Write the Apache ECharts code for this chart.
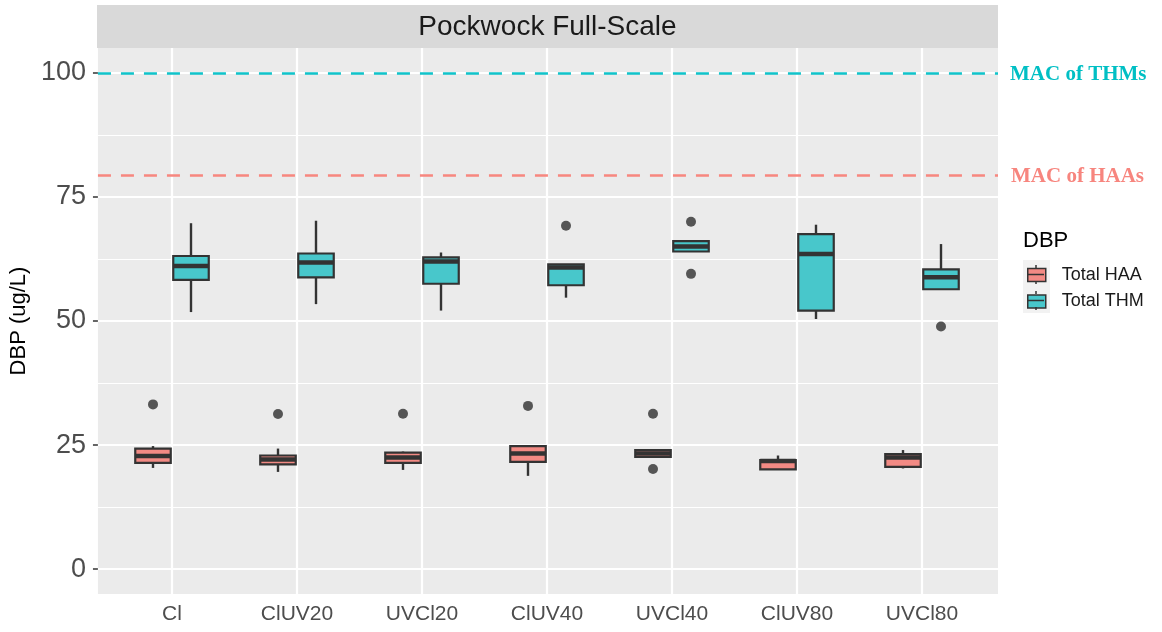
<!DOCTYPE html>
<html>
<head>
<meta charset="utf-8">
<script src="https://cdn.jsdelivr.net/npm/echarts@6/dist/echarts.min.js"></script>
<style>html,body{margin:0;padding:0;background:#fff}#c{width:1162px;height:632px}</style>
</head>
<body>
<div id="c"></div>
<script>
// ---- data ----
const categories = ['Cl', 'ClUV20', 'UVCl20', 'ClUV40', 'UVCl40', 'ClUV80', 'UVCl80'];
// [min, Q1, median, Q3, max] per category
const haaBox = [
  [20.4, 21.4, 22.8, 24.3, 24.8],
  [19.6, 21.1, 22.1, 22.9, 24.3],
  [20.0, 21.4, 22.5, 23.5, 23.7],
  [18.8, 21.6, 23.3, 24.8, 24.8],
  [22.6, 22.6, 23.3, 24.0, 24.0],
  [20.1, 20.1, 21.8, 22.0, 22.9],
  [20.3, 20.6, 22.5, 23.2, 24.0]
];
const thmBox = [
  [51.8, 58.3, 61.1, 63.1, 69.7],
  [53.4, 58.8, 61.8, 63.6, 70.2],
  [52.1, 57.5, 62.0, 62.8, 63.8],
  [54.7, 57.2, 60.8, 61.4, 61.4],
  [64.0, 64.0, 65.0, 66.1, 66.1],
  [50.4, 52.1, 63.5, 67.5, 69.4],
  [56.4, 56.4, 58.8, 60.4, 65.5]
];
// [category index, value]
const haaOutliers = [[0, 33.2], [1, 31.25], [2, 31.3], [3, 32.9], [4, 31.3], [4, 20.2]];
const thmOutliers = [[3, 69.2], [4, 70.0], [4, 59.5], [6, 48.9]];
const yTicks = [0, 25, 50, 75, 100];
const yMinor = [12.5, 37.5, 62.5, 87.5];
const macTHM = 100;
const macHAA = 79.3;
const seriesNames = ['Total HAA', 'Total THM'];

// ---- styles ----
const HAA_FILL = '#F28A84';
const THM_FILL = '#48C7CB';
const THM_COLOR = '#00BFC4';
const DARK = '#333333';
const FONT = "'Liberation Sans', Arial, Helvetica, sans-serif";

function boxRender(sign, fill) {
  return function (params, api) {
    const i = api.value(0);
    const band = api.size([1, 0])[0];
    const cx = api.coord([i, 0])[0] + sign * 0.152 * band;
    const hw = 0.142 * band;
    const yMin = api.coord([i, api.value(1)])[1];
    const yQ1 = api.coord([i, api.value(2)])[1];
    const yMed = api.coord([i, api.value(3)])[1];
    const yQ3 = api.coord([i, api.value(4)])[1];
    const yMax = api.coord([i, api.value(5)])[1];
    return {
      type: 'group',
      children: [
        { type: 'line', shape: { x1: cx, y1: yQ3, x2: cx, y2: yMax }, style: { stroke: DARK, lineWidth: 2.4 } },
        { type: 'line', shape: { x1: cx, y1: yQ1, x2: cx, y2: yMin }, style: { stroke: DARK, lineWidth: 2.4 } },
        { type: 'rect', shape: { x: cx - hw, y: yQ3, width: 2 * hw, height: yQ1 - yQ3 }, style: { fill: fill, stroke: DARK, lineWidth: 2.2 } },
        { type: 'line', shape: { x1: cx - hw, y1: yMed, x2: cx + hw, y2: yMed }, style: { stroke: DARK, lineWidth: 4.5 } }
      ]
    };
  };
}
function outlierRender(sign) {
  return function (params, api) {
    const i = api.value(0);
    const band = api.size([1, 0])[0];
    const cx = api.coord([i, 0])[0] + sign * 0.152 * band;
    const cy = api.coord([i, api.value(1)])[1];
    return { type: 'circle', shape: { cx: cx, cy: cy, r: 5 }, style: { fill: '#4d4d4d', opacity: 0.95 } };
  };
}

const haaData = haaBox.map((b, i) => [i].concat(b));
const thmData = thmBox.map((b, i) => [i].concat(b));

// legend key decoration (median bar and whisker stubs)
function keyDeco(cy) {
  return [
    { type: 'line', shape: { x1: 1028, y1: cy, x2: 1044, y2: cy }, style: { stroke: DARK, lineWidth: 1.5 }, z: 20 },
    { type: 'line', shape: { x1: 1036, y1: cy - 9.5, x2: 1036, y2: cy - 6.5 }, style: { stroke: DARK, lineWidth: 1.5 }, z: 20 },
    { type: 'line', shape: { x1: 1036, y1: cy + 6.5, x2: 1036, y2: cy + 9.5 }, style: { stroke: DARK, lineWidth: 1.5 }, z: 20 }
  ];
}

const chart = echarts.init(document.getElementById('c'));
chart.setOption({
  animation: false,
  backgroundColor: '#ffffff',
  textStyle: { fontFamily: FONT },
  grid: [
    { left: 97, right: 164, top: 48, bottom: 38, show: true, backgroundColor: '#EBEBEB', borderWidth: 0 },
    { left: 109.5, right: 177.5, top: 48, bottom: 38, show: false }
  ],
  xAxis: [
    { gridIndex: 0, type: 'value', min: 0, max: 1, show: false },
    {
      gridIndex: 1, type: 'category', data: categories, boundaryGap: true,
      axisLine: { show: false },
      axisTick: { show: true, alignWithLabel: true, length: 5, lineStyle: { color: DARK, width: 1.5 } },
      axisLabel: { fontSize: 21, color: '#4D4D4D', margin: 10, fontFamily: FONT },
      splitLine: { show: false }
    }
  ],
  yAxis: [
    {
      gridIndex: 0, type: 'value', min: -5, max: 105,
      name: 'DBP (ug/L)', nameLocation: 'middle', nameRotate: 90, nameGap: 66,
      nameTextStyle: { fontSize: 22, color: '#000', fontFamily: FONT },
      axisLine: { show: false },
      axisTick: { show: true, customValues: yTicks, length: 5, lineStyle: { color: DARK, width: 1.5 } },
      axisLabel: { customValues: yTicks, fontSize: 27, color: '#4D4D4D', margin: 12, fontFamily: FONT },
      splitLine: { show: false }
    },
    { gridIndex: 1, type: 'value', min: -5, max: 105, show: false }
  ],
  legend: {
    data: [
      { name: seriesNames[0], itemStyle: { color: HAA_FILL, borderColor: DARK, borderWidth: 1.5 } },
      { name: seriesNames[1], itemStyle: { color: THM_FILL, borderColor: DARK, borderWidth: 1.5 } }
    ],
    orient: 'vertical', left: 1022, top: 261, itemWidth: 18, itemHeight: 13, itemGap: 8.5,
    icon: 'rect', selectedMode: false,
    textStyle: { fontSize: 18, color: '#1A1A1A', fontFamily: FONT, padding: [0, 0, 0, 11] }
  },
  graphic: [
    { type: 'rect', left: 97, top: 5, shape: { width: 901, height: 43 }, style: { fill: '#D9D9D9' }, z: 0 },
    { type: 'text', x: 547.5, y: 27, style: { text: 'Pockwock Full-Scale', fontSize: 28, fill: '#1A1A1A', fontFamily: FONT, align: 'center', verticalAlign: 'middle' } },
    { type: 'text', x: 1010, y: 75, style: { text: 'MAC of THMs', fontSize: 21, fontWeight: 'bold', fill: THM_COLOR, fontFamily: "'Liberation Serif', 'Times New Roman', serif", verticalAlign: 'middle' } },
    { type: 'text', x: 1011, y: 177, style: { text: 'MAC of HAAs', fontSize: 21, fontWeight: 'bold', fill: '#F7857E', fontFamily: "'Liberation Serif', 'Times New Roman', serif", verticalAlign: 'middle' } },
    { type: 'text', x: 1023, y: 241, style: { text: 'DBP', fontSize: 22, fill: '#000', fontFamily: FONT, verticalAlign: 'middle' } },
    { type: 'rect', left: 1023, top: 260, shape: { width: 27, height: 53 }, style: { fill: '#F2F2F2' }, z: -1 }
  ].concat(keyDeco(274.5), keyDeco(300.5)),
  series: [
    {
      type: 'line', xAxisIndex: 0, yAxisIndex: 0, data: [], silent: true, z: 1,
      markLine: {
        z: 1, silent: true, symbol: 'none', animation: false, label: { show: false },
        data: [].concat(
          yMinor.map(v => ({ yAxis: v, lineStyle: { color: '#FFFFFF', width: 1.1, type: 'solid' } })),
          yTicks.map(v => ({ yAxis: v, lineStyle: { color: '#FFFFFF', width: 2.2, type: 'solid' } }))
        )
      }
    },
    {
      type: 'line', xAxisIndex: 1, yAxisIndex: 1, data: [], silent: true, z: 1,
      markLine: {
        z: 1, silent: true, symbol: 'none', animation: false, label: { show: false },
        data: categories.map((c, i) => ({ xAxis: i, lineStyle: { color: '#FFFFFF', width: 2.2, type: 'solid' } }))
      }
    },
    {
      type: 'line', xAxisIndex: 0, yAxisIndex: 0, data: [], silent: true, z: 2,
      markLine: {
        z: 2, silent: true, symbol: 'none', animation: false, label: { show: false },
        data: [
          { yAxis: macTHM, lineStyle: { color: '#10C3CA', width: 2.6, type: [13, 10], dashOffset: 0 } },
          { yAxis: macHAA, lineStyle: { color: '#F7877F', width: 2.6, type: [13, 10], dashOffset: 0 } }
        ]
      }
    },
    {
      name: seriesNames[0], type: 'custom', xAxisIndex: 1, yAxisIndex: 1, z: 3,
      itemStyle: { color: HAA_FILL },
      encode: { x: 0, y: [1, 2, 3, 4, 5] },
      renderItem: boxRender(-1, HAA_FILL), data: haaData
    },
    {
      name: seriesNames[1], type: 'custom', xAxisIndex: 1, yAxisIndex: 1, z: 3,
      itemStyle: { color: THM_FILL },
      encode: { x: 0, y: [1, 2, 3, 4, 5] },
      renderItem: boxRender(1, THM_FILL), data: thmData
    },
    {
      type: 'custom', xAxisIndex: 1, yAxisIndex: 1, z: 4,
      encode: { x: 0, y: 1 }, renderItem: outlierRender(-1), data: haaOutliers
    },
    {
      type: 'custom', xAxisIndex: 1, yAxisIndex: 1, z: 4,
      encode: { x: 0, y: 1 }, renderItem: outlierRender(1), data: thmOutliers
    }
  ]
});
</script>
</body>
</html>
